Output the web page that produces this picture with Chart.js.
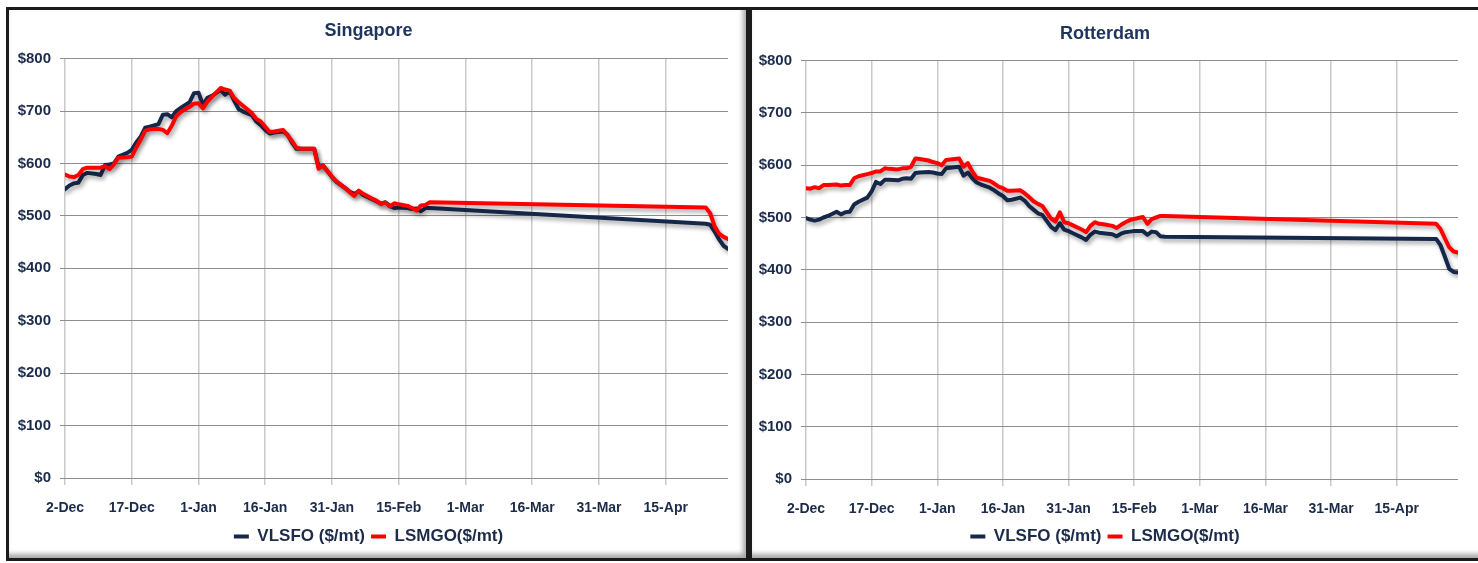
<!DOCTYPE html>
<html>
<head>
<meta charset="utf-8">
<script src="https://cdn.jsdelivr.net/npm/chart.js@4"></script>
<style>
  body { margin: 0; background: #fff; width: 1478px; height: 563px; overflow: hidden; position: relative; }
  .panel { position: absolute; top: 7px; width: 737px; height: 548px; border: 3px solid #1b1b1b;
           background: #fff; box-shadow: inset -3px -4px 5px rgba(0,0,0,0.35); }
  .panel canvas { display: block; }
</style>
</head>
<body>
<div class="panel" style="left:6px"><canvas id="sgChart" width="737" height="548"></canvas></div>
<div class="panel" style="left:749px"><canvas id="rtChart" width="737" height="548"></canvas></div>
<script>
// x values are days counted from 2-Dec (Dec 2019 - Apr 2020, leap year)
const tickDays = [0, 15, 30, 45, 60, 75, 90, 105, 120, 135];
const tickLabels = ['2-Dec', '17-Dec', '1-Jan', '16-Jan', '31-Jan', '15-Feb', '1-Mar', '16-Mar', '31-Mar', '15-Apr'];

// Singapore
const sgDays = [0, 1, 2, 3, 4, 5, 7, 8, 9, 10, 11, 12, 14, 15, 16, 17, 18, 19, 21, 22, 23, 24, 25, 26, 28, 29, 30, 31, 32, 33,
  35, 36, 37, 38, 39, 40, 42, 43, 44, 45, 46, 47, 49, 50, 51, 52, 53, 56, 57, 58, 59, 60, 61, 63, 64, 65, 66, 67, 69, 70,
  71, 72, 73, 74, 75, 77, 78, 79, 80, 81, 82, 144, 145, 146, 147, 148, 149];
const sgVlsfo = [551, 558, 562, 563, 578, 582, 580, 578, 597, 598, 600, 613, 620, 626, 640, 651, 668, 670, 675, 693, 694, 688, 700, 706, 717, 734, 735, 712, 725, 729,
  740, 731, 738, 720, 704, 699, 692, 680, 673, 664, 657, 659, 661, 655, 640, 628, 628, 628, 593, 596, 585, 574, 565, 553, 546, 542, 547, 540, 532, 528,
  523, 526, 519, 515, 516, 515, 513, 514, 509, 515, 515, 485, 483, 470, 455, 443, 437];
const sgLsmgo = [579, 575, 574, 578, 589, 592, 592, 592, 595, 589, 598, 611, 612, 613, 630, 645, 662, 665, 666, 664, 658, 672, 690, 698, 708, 714, 715, 705, 718, 727,
  744, 741, 739, 725, 717, 710, 696, 685, 680, 670, 660, 661, 664, 654, 643, 630, 628, 628, 590, 596, 585, 575, 566, 553, 545, 538, 548, 542, 533, 529,
  523, 525, 518, 524, 522, 519, 515, 510, 520, 521, 526, 516, 505, 480, 466, 460, 456];

// Rotterdam
const rtDays = [0, 1, 2, 3, 4, 5, 7, 8, 9, 10, 11, 12, 14, 15, 16, 17, 18, 19, 21, 22, 23, 24, 25, 26, 28, 29, 30, 31, 32, 33,
  35, 36, 37, 38, 39, 40, 42, 43, 44, 45, 46, 47, 49, 50, 51, 52, 53, 54, 56, 57, 58, 59, 60, 61, 63, 64, 65, 66, 67, 68,
  70, 71, 72, 73, 74, 75, 77, 78, 79, 80, 81, 82, 144, 145, 146, 147, 148, 149];
const rtVlsfo = [499, 496, 494, 496, 500, 503, 511, 506, 510, 511, 525, 530, 538, 550, 568, 564, 572, 572, 571, 574, 575, 574, 585, 586, 587, 586, 584, 583, 594, 595,
  597, 580, 586, 575, 567, 563, 557, 552, 546, 541, 533, 534, 538, 532, 522, 515, 508, 505, 482, 476, 489, 477, 474, 470, 462, 457, 467, 473, 471, 470,
  468, 464, 469, 472, 473, 474, 474, 467, 473, 472, 464, 463, 459, 447, 425, 402, 396, 395];
const rtLsmgo = [556, 555, 558, 556, 562, 562, 563, 561, 562, 562, 575, 579, 583, 585, 588, 588, 594, 593, 592, 594, 594, 597, 613, 612, 609, 606, 604, 600, 610, 611,
  613, 597, 604, 588, 576, 574, 570, 565, 559, 556, 551, 551, 552, 546, 539, 531, 526, 522, 498, 492, 510, 491, 489, 485, 477, 472, 484, 491, 488, 487,
  484, 480, 486, 491, 495, 497, 501, 488, 497, 500, 503, 503, 488, 478, 460, 443, 435, 433];

const textColor = '#1c2b4a';
const fontFamily = "'Liberation Sans', Arial, sans-serif";

const lineShadow = {
  id: 'lineShadow',
  beforeDatasetDraw(chart) {
    const c = chart.ctx;
    c.save();
    c.shadowColor = 'rgba(0,0,0,0.35)';
    c.shadowBlur = 4;
    c.shadowOffsetX = 2;
    c.shadowOffsetY = 3;
  },
  afterDatasetDraw(chart) {
    chart.ctx.restore();
  }
};

function toPoints(days, vals) {
  return days.map((d, i) => ({ x: d, y: vals[i] }));
}

function makeChart(id, title, days, vlsfo, lsmgo, lay) {
  const ctx = document.getElementById(id).getContext('2d');
  return new Chart(ctx, {
    type: 'line',
    data: {
      datasets: [{
        label: 'LSMGO($/mt)',
        data: toPoints(days, lsmgo),
        borderColor: '#ff0000',
        backgroundColor: '#ff0000',
        borderWidth: 4,
        pointRadius: 0,
        borderJoinStyle: 'round',
        borderCapStyle: 'round'
      }, {
        label: 'VLSFO ($/mt)',
        data: toPoints(days, vlsfo),
        borderColor: '#15284a',
        backgroundColor: '#15284a',
        borderWidth: 4,
        pointRadius: 0,
        borderJoinStyle: 'round',
        borderCapStyle: 'round'
      }]
    },
    options: {
      responsive: false,
      animation: false,
      layout: { padding: { left: 0, right: lay.right, top: 0, bottom: 3 } },
      plugins: {
        tooltip: { enabled: false },
        title: {
          display: true,
          text: title,
          color: '#1f3560',
          font: { family: fontFamily, size: 18, weight: 'bold' },
          padding: { top: lay.titleTop, bottom: lay.titleBottom }
        },
        legend: {
          position: 'bottom',
          reverse: true,
          labels: {
            color: textColor,
            font: { family: fontFamily, size: 17, weight: 'bold' },
            boxWidth: 15,
            boxHeight: 4,
            padding: 6,
            generateLabels(chart) {
              const items = Chart.defaults.plugins.legend.labels.generateLabels(chart);
              items.forEach(it => { it.lineWidth = 0; });
              return items;
            }
          }
        }
      },
      scales: {
        x: {
          type: 'linear',
          min: 0,
          max: 149,
          afterBuildTicks: axis => { axis.ticks = tickDays.map(v => ({ value: v })); },
          afterFit: scale => { scale.height = lay.xHeight; },
          ticks: {
            color: textColor,
            font: { family: fontFamily, size: 14, weight: 'bold' },
            padding: 15,
            maxRotation: 0,
            autoSkip: false,
            callback: v => tickLabels[tickDays.indexOf(v)]
          },
          grid: { color: '#c9c9c9', lineWidth: 1.5, tickLength: 7 },
          border: { display: false }
        },
        y: {
          min: 0,
          max: 800,
          afterFit: scale => { scale.width = lay.yWidth; },
          ticks: {
            stepSize: 100,
            color: textColor,
            font: { family: fontFamily, size: 15, weight: 'bold' },
            padding: 9,
            callback: v => '$' + v
          },
          grid: { color: '#8e8e8e', lineWidth: 1, tickLength: 5 },
          border: { display: false }
        }
      }
    },
    plugins: [lineShadow]
  });
}

makeChart('sgChart', 'Singapore', sgDays, sgVlsfo, sgLsmgo,
  { right: 18, titleTop: 10, titleBottom: 17, xHeight: 44, yWidth: 56 });
makeChart('rtChart', 'Rotterdam', rtDays, rtVlsfo, rtLsmgo,
  { right: 31, titleTop: 13, titleBottom: 16, xHeight: 43, yWidth: 54 });
</script>
</body>
</html>
